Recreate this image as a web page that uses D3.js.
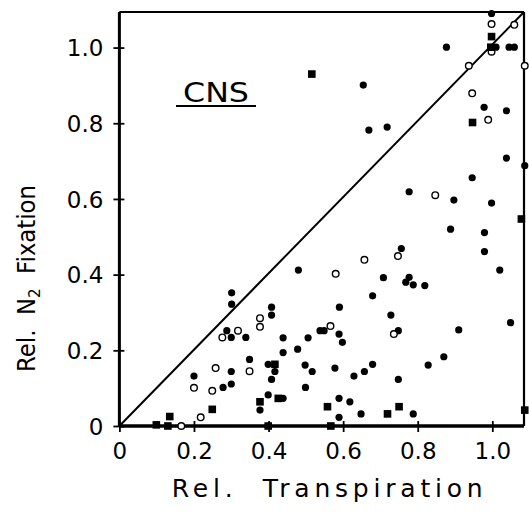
<!DOCTYPE html>
<html><head><meta charset="utf-8">
<script src="https://cdn.jsdelivr.net/npm/d3@7"></script>
<style>body{margin:0;background:#fff}svg{display:block}text{font-family:"DejaVu Sans",sans-serif;fill:#000}</style>
</head><body><svg id="c" width="529" height="514"></svg>
<script>
const ticks = [0, 0.2, 0.4, 0.6, 0.8, 1.0];
const tickLabels = ["0", "0.2", "0.4", "0.6", "0.8", "1.0"];
const xTitle = "Rel.  Transpiration";
const yTitle = ["Rel.  N", "2", "  Fixation"];
const panelLabel = "CNS";

const filledX = [0.998,0.877,1.010,1.045,1.059,0.978,1.038,1.038,0.654,0.669,0.718,1.087,0.946,0.777,0.897,0.998,0.888,0.979,0.979,1.020,0.756,0.708,0.777,0.768,0.788,0.819,0.679,0.590,0.480,0.301,0.301,0.408,0.408,0.288,0.300,0.339,0.349,0.300,0.300,0.278,0.200,0.728,0.538,0.549,0.589,0.598,0.748,0.439,0.506,0.478,0.439,0.399,0.417,0.408,0.498,0.517,0.578,0.629,0.657,0.679,0.499,0.377,0.399,0.439,0.589,0.618,0.589,0.648,0.910,1.049,0.870,0.828,0.748,0.788];
const filledY = [1.090,1.001,1.001,1.001,1.001,0.842,0.833,0.708,0.901,0.782,0.790,0.688,0.656,0.619,0.597,0.589,0.520,0.511,0.461,0.412,0.469,0.392,0.393,0.380,0.373,0.371,0.344,0.314,0.412,0.352,0.322,0.314,0.293,0.252,0.234,0.234,0.176,0.144,0.111,0.102,0.132,0.293,0.252,0.252,0.243,0.221,0.252,0.233,0.233,0.203,0.194,0.163,0.144,0.123,0.161,0.144,0.153,0.132,0.144,0.163,0.102,0.042,0.082,0.073,0.073,0.064,0.023,0.032,0.254,0.273,0.183,0.161,0.123,0.032];
const openX = [0.998,1.059,0.998,0.937,1.087,0.946,0.989,0.847,0.747,0.657,0.580,0.276,0.318,0.349,0.258,0.200,0.249,0.218,0.166,0.377,0.377,0.566,0.736];
const openY = [1.062,1.060,0.989,0.952,0.952,0.879,0.809,0.610,0.449,0.439,0.402,0.234,0.252,0.145,0.153,0.101,0.093,0.023,0.000,0.285,0.262,0.264,0.243];
const squareX = [0.516,0.998,0.996,0.947,1.078,0.249,0.135,0.099,0.130,0.417,0.377,0.426,0.558,0.719,0.399,0.567,0.750,1.087];
const squareY = [0.930,1.029,1.001,0.802,0.547,0.044,0.025,0.003,0.000,0.163,0.064,0.073,0.051,0.032,0.000,0.000,0.051,0.042];

const L = 119.4, R = 524, T = 12, B = 426;
const xMax = 1.085, yMax = 1.094;
const svg = d3.select("#c");
const x = d3.scaleLinear().domain([0, xMax]).range([L, R]);
const y = d3.scaleLinear().domain([0, yMax]).range([B, T]);

// frame top/right
svg.append("line").attr("x1", L).attr("x2", R).attr("y1", T).attr("y2", T).attr("stroke", "#000").attr("stroke-width", 2.2);
svg.append("line").attr("x1", R).attr("x2", R).attr("y1", T).attr("y2", B).attr("stroke", "#000").attr("stroke-width", 2.2);

// diagonal
svg.append("line").attr("x1", x(0)).attr("y1", y(0)).attr("x2", x(xMax)).attr("y2", y(yMax))
  .attr("stroke", "#000").attr("stroke-width", 2);

// axes
const fmt = (d, i) => tickLabels[i];
const gx = svg.append("g").attr("transform", `translate(0,${B})`)
  .call(d3.axisBottom(x).tickValues(ticks).tickFormat(fmt).tickSizeOuter(0).tickSizeInner(6).tickPadding(8));
gx.select(".domain").attr("stroke-width", 3.5).attr("d", `M${L},0H${R}`);
gx.selectAll(".tick line").attr("y1", -5).attr("y2", 6).attr("stroke-width", 1.8);
gx.selectAll(".tick text").attr("font-size", 23).attr("font-family", "DejaVu Sans").attr("dy", "0.9em").attr("y", 12);

const gy = svg.append("g").attr("transform", `translate(${L},0)`)
  .call(d3.axisLeft(y).tickValues(ticks).tickFormat(fmt).tickSizeOuter(0).tickSizeInner(6).tickPadding(10));
gy.select(".domain").attr("stroke-width", 3).attr("d", `M0,${B}V${T}`);
gy.selectAll(".tick line").attr("x1", 5).attr("x2", -6).attr("stroke-width", 1.8);
gy.selectAll(".tick text").attr("font-size", 23).attr("font-family", "DejaVu Sans").attr("dy", "0.36em");

// points
svg.append("g").selectAll("circle").data(d3.range(filledX.length)).join("circle")
  .attr("cx", i => x(filledX[i])).attr("cy", i => y(filledY[i])).attr("r", 3.6).attr("fill", "#000");
svg.append("g").selectAll("circle").data(d3.range(openX.length)).join("circle")
  .attr("cx", i => x(openX[i])).attr("cy", i => y(openY[i])).attr("r", 3.3)
  .attr("fill", "#fff").attr("stroke", "#000").attr("stroke-width", 1.4);
svg.append("g").selectAll("rect").data(d3.range(squareX.length)).join("rect")
  .attr("x", i => x(squareX[i]) - 3.8).attr("y", i => y(squareY[i]) - 3.8)
  .attr("width", 7.6).attr("height", 7.6).attr("fill", "#000");

// CNS label
svg.append("text").attr("x", 183).attr("y", 101.5).attr("font-size", 27)
  .attr("textLength", 66).attr("lengthAdjust", "spacingAndGlyphs").text(panelLabel);
svg.append("line").attr("x1", 176).attr("x2", 256).attr("y1", 106).attr("y2", 106).attr("stroke", "#000").attr("stroke-width", 2);

// x title
svg.append("text").attr("x", 171.7).attr("y", 497).attr("font-size", 25)
  .attr("textLength", 311).attr("lengthAdjust", "spacing").style("white-space", "pre").text(xTitle);

// y title
const yt = svg.append("text").attr("transform", "translate(35,372) rotate(-90)")
  .attr("x", 0).attr("y", 0).attr("font-size", 24).style("white-space", "pre")
  .attr("textLength", 187).attr("lengthAdjust", "spacingAndGlyphs");
yt.append("tspan").text(yTitle[0]);
yt.append("tspan").attr("font-size", 16).attr("dy", 5).text(yTitle[1]);
yt.append("tspan").attr("dy", -5).text(yTitle[2]);
</script></body></html>
